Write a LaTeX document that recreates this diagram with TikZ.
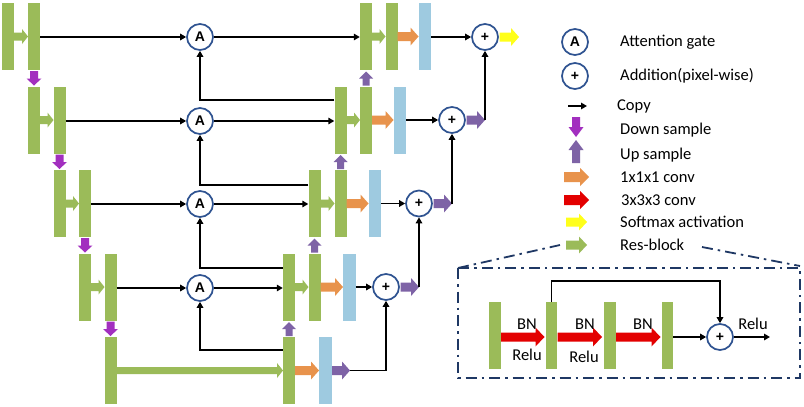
\documentclass[tikz,border=0pt]{standalone}
\usepackage{fontspec}
\setmainfont{Carlito}
\newfontfamily\gatefont{Liberation Sans}
\usetikzlibrary{arrows.meta}
\definecolor{cgreen}{HTML}{9BBB59}
\definecolor{cblue}{HTML}{9ECAE0}
\definecolor{corange}{HTML}{E8934C}
\definecolor{cup}{HTML}{7E63A6}
\definecolor{cdown}{HTML}{A22FBF}
\definecolor{cred}{HTML}{E30000}
\definecolor{cyellow}{HTML}{FFFF1A}
\definecolor{cnavy}{HTML}{2F5391}
\definecolor{cbox}{HTML}{1F3864}
% block arrows: colour, from, to, position, half shaft, half head, head length
\newcommand\ArrR[7]{\fill[#1] (#2,#4-#5) -- (#3-#7,#4-#5) -- (#3-#7,#4-#6) -- (#3,#4) -- (#3-#7,#4+#6) -- (#3-#7,#4+#5) -- (#2,#4+#5) -- cycle;}
\newcommand\ArrD[7]{\fill[#1] (#2-#5,#3) -- (#2-#5,#4-#7) -- (#2-#6,#4-#7) -- (#2,#4) -- (#2+#6,#4-#7) -- (#2+#5,#4-#7) -- (#2+#5,#3) -- cycle;}
\newcommand\ArrU[7]{\fill[#1] (#2-#5,#3) -- (#2-#5,#4+#7) -- (#2-#6,#4+#7) -- (#2,#4) -- (#2+#6,#4+#7) -- (#2+#5,#4+#7) -- (#2+#5,#3) -- cycle;}
\begin{document}
\begin{tikzpicture}[x=1pt,y=-1pt,
 gblk/.style={rectangle,fill=cgreen,inner sep=0pt,minimum width=12pt,minimum height=67pt},
 bblk/.style={rectangle,fill=cblue,inner sep=0pt,minimum width=12.5pt,minimum height=67pt},
 gate/.style={circle,draw=cnavy,line width=1.7pt,fill=white,inner sep=0pt,minimum size=26pt,font=\gatefont\bfseries\fontsize{14}{14}\selectfont},
 cp/.style={line width=1.7pt,-{Triangle[length=6pt,width=6.5pt]}},
 lab/.style={anchor=west,inner sep=0pt,font=\fontsize{16.5}{18}\selectfont},
 small/.style={inner sep=0pt,font=\fontsize{16.5}{18}\selectfont},
 dd/.style={cbox,line width=1.8pt,dash pattern=on 11pt off 5pt on 2.5pt off 5pt}]

\useasboundingbox[fill=white] (0,0) rectangle (804,407);

% ---------------- encoder
\node[gblk] (e0a) at (8,36.5) {};
\node[gblk] (e0b) at (34,36.5) {};
\node[gblk] (e1a) at (34,120) {};
\node[gblk] (e1b) at (59.5,120) {};
\node[gblk] (e2a) at (59.5,203.5) {};
\node[gblk] (e2b) at (85,203.5) {};
\node[gblk] (e3a) at (85,287) {};
\node[gblk] (e3b) at (110.5,287) {};
\node[gblk] (e4) at (110.5,370.5) {};

\ArrR{cgreen}{14}{28}{36.5}{4}{7.5}{6}
\ArrR{cgreen}{40}{53.5}{120}{4}{7.5}{6}
\ArrR{cgreen}{65.5}{79}{203.5}{4}{7.5}{6}
\ArrR{cgreen}{91}{104.5}{287}{4}{7.5}{6}
\ArrR{cgreen}{116.5}{283}{370.5}{3.5}{7.5}{6}

\ArrD{cdown}{34}{71}{85.5}{4}{7.5}{7}
\ArrD{cdown}{59.5}{154.5}{169}{4}{7.5}{7}
\ArrD{cdown}{85}{238}{252.5}{4}{7.5}{7}
\ArrD{cdown}{110.5}{321.5}{336}{4}{7.5}{7}

% ---------------- attention gates
\node[gate] (A0) at (200,37) {A};
\node[gate] (A1) at (200,121) {A};
\node[gate] (A2) at (200,204) {A};
\node[gate] (A3) at (200,288) {A};

\draw[cp] (A0.west -| e0b.east) -- (A0.west);
\draw[cp] (A1.west -| e1b.east) -- (A1.west);
\draw[cp] (A2.west -| e2b.east) -- (A2.west);
\draw[cp] (A3.west -| e3b.east) -- (A3.west);

% ---------------- decoder
\node[gblk] (d0a) at (366,36.5) {};
\node[gblk] (d0b) at (391.5,36.5) {};
\node[bblk] (b0) at (425,36.5) {};
\node[gblk] (d1a) at (340.5,120) {};
\node[gblk] (d1b) at (366,120) {};
\node[bblk] (b1) at (400,120) {};
\node[gblk] (d2a) at (314.5,203.5) {};
\node[gblk] (d2b) at (340.5,203.5) {};
\node[bblk] (b2) at (375,203.5) {};
\node[gblk] (d3a) at (289,287) {};
\node[gblk] (d3b) at (314.5,287) {};
\node[bblk] (b3) at (349.5,287) {};
\node[gblk] (d4) at (289,370.5) {};
\node[bblk] (b4) at (325.5,370.5) {};

\ArrR{cgreen}{372}{385.5}{36.5}{4}{7.5}{6}
\ArrR{cgreen}{346.5}{360}{120}{4}{7.5}{6}
\ArrR{cgreen}{320.5}{334.5}{203.5}{4}{7.5}{6}
\ArrR{cgreen}{295}{308.5}{287}{4}{7.5}{6}

\ArrR{corange}{397.5}{418.5}{36.5}{4.5}{9}{8}
\ArrR{corange}{372}{393.5}{120}{4.5}{9}{8}
\ArrR{corange}{346.5}{368.5}{203.5}{4.5}{9}{8}
\ArrR{corange}{320.5}{343}{287}{4.5}{9}{8}
\ArrR{corange}{295}{319}{370.5}{4.5}{9}{8}

\ArrU{cup}{366}{85.5}{71.5}{3.5}{7}{7}
\ArrU{cup}{340.5}{169}{155}{3.5}{7}{7}
\ArrU{cup}{314.5}{252.5}{238.5}{3.5}{7}{7}
\ArrU{cup}{289}{336}{322}{3.5}{7}{7}

\node[gate] (p0) at (485,37) {+};
\node[gate] (p1) at (452,120) {+};
\node[gate] (p2) at (419,203.5) {+};
\node[gate] (p3) at (386,287) {+};

\draw[cp] (p0.west -| b0.east) -- (p0.west);
\draw[cp] (p1.west -| b1.east) -- (p1.west);
\draw[cp] (p2.west -| b2.east) -- (p2.west);
\draw[cp] (p3.west -| b3.east) -- (p3.west);

\draw[cp] (A0.east) -- (A0.east -| d0a.west);
\draw[cp] (A1.east) -- (A1.east -| d1a.west);
\draw[cp] (A2.east) -- (A2.east -| d2a.west);
\draw[cp] (A3.east) -- (A3.east -| d3a.west);

\draw[cp] ([yshift=20pt]d1a.west) -| (A0.south);
\draw[cp] ([yshift=18.5pt]d2a.west) -| (A1.south);
\draw[cp] ([yshift=19pt]d3a.west) -| (A2.south);
\draw[cp] ([yshift=20.5pt]d4.west) -| (A3.south);

\ArrR{cyellow}{499.5}{519}{37}{4.5}{9}{8}
\ArrR{cup}{466.5}{485}{120}{4.5}{9}{8}
\ArrR{cup}{433.5}{452}{203.5}{4.5}{9}{8}
\ArrR{cup}{400.5}{419}{287}{4.5}{9}{8}
\ArrR{cup}{332}{350}{370.5}{4.5}{9}{8}

\coordinate (t1) at (485,120);
\coordinate (t2) at (452,203.5);
\coordinate (t3) at (419,287);
\coordinate (t4) at (350,370.5);
\draw[cp] (t1) -- (p0.south);
\draw[cp] (t2) -- (p1.south);
\draw[cp] (t3) -- (p2.south);
\draw[cp] (t4) -| (p3.south);

% ---------------- legend
\node[gate] (LA) at (575,42) {A};
\node[lab] (tA) at (620,42) {Attention gate};
\node[gate] (LP) at (575,76) {+};
\node[lab] (tP) at (620,76) {Addition(pixel-wise)};
\coordinate (c1) at (568,106);
\coordinate (c2) at (587,106);
\draw[cp] (c1) -- (c2);
\node[lab] (tC) at (617,106) {Copy};
\ArrD{cdown}{576}{117}{137}{4}{7.5}{10}
\node[lab] (tD) at (620,130) {Down sample};
\ArrU{cup}{576}{163}{140}{4}{7.5}{10}
\node[lab] (tU) at (620,155) {Up sample};
\ArrR{corange}{564}{589}{177}{5}{9}{9}
\node[lab] (t1x) at (620,177) {1x1x1 conv};
\ArrR{cred}{564}{589}{200}{5}{9}{9}
\node[lab] (t3x) at (621,200) {3x3x3 conv};
\ArrR{cyellow}{566}{587}{222}{4.5}{8.5}{8}
\node[lab] (tS) at (620,222) {Softmax activation};
\ArrR{cgreen}{566}{587}{245}{4.5}{8.5}{8}
\node[lab] (tR) at (620,245) {Res-block};

% ---------------- res-block inset
\draw[dd] (458,268) rectangle (800,378);
\draw[dd] (458,268) -- (560,245);
\draw[dd] (702,247) -- (800,266);

\node[gblk,minimum width=11.5pt] (r1) at (495,335.5) {};
\node[gblk,minimum width=11.5pt] (r2) at (551.5,335.5) {};
\node[gblk,minimum width=11.5pt] (r3) at (610,335.5) {};
\node[gblk,minimum width=11.5pt] (r4) at (667.5,335.5) {};

\ArrR{cred}{501}{544.5}{337}{4.5}{9.5}{9}
\ArrR{cred}{557.5}{602}{337}{4.5}{9.5}{9}
\ArrR{cred}{616}{660.5}{337}{4.5}{9.5}{9}

\node[small] (bn1) at (527,324) {BN};
\node[small] (bn2) at (585,324) {BN};
\node[small] (bn3) at (643,324) {BN};
\node[small] (rl1) at (527,355) {Relu};
\node[small] (rl2) at (584,357) {Relu};

\node[gate] (rp) at (720,337) {+};
\draw[cp] (rp.west -| r4.east) -- (rp.west);
\coordinate (ro) at (770,337);
\draw[cp] (rp.east) -- (ro);
\node[small] (rl3) at (753,324) {Relu};
\draw[cp] (r2.north) -- ++(0,-21) -| (rp.north);
\end{tikzpicture}
\end{document}
